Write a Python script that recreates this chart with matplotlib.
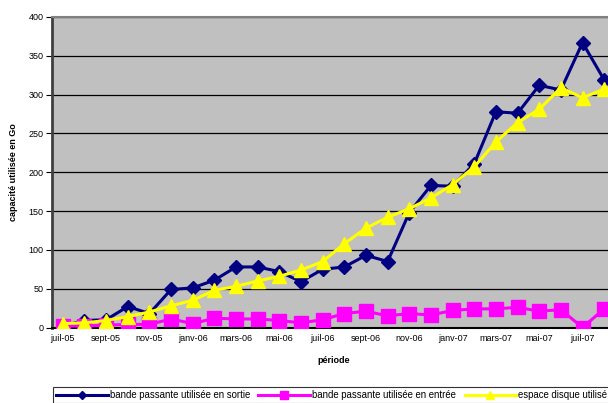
import matplotlib.pyplot as plt
import numpy as np

plt.rcParams['font.family'] = ['Liberation Sans', 'DejaVu Sans']

mois = ["juil-05", "août-05", "sept-05", "oct-05", "nov-05", "déc-05",
        "janv-06", "févr-06", "mars-06", "avr-06", "mai-06", "juin-06",
        "juil-06", "août-06", "sept-06", "oct-06", "nov-06", "déc-06",
        "janv-07", "févr-07", "mars-07", "avr-07", "mai-07", "juin-07",
        "juil-07", "août-07"]

sortie = [2, 9, 10, 27, 18, 49, 51, 61, 78, 78, 72, 59, 75, 78, 93, 85,
          148, 183, 182, 211, 278, 276, 312, 306, 367, 319]
entree = [2, 2, 3, 4, 4, 11, 5, 12, 11, 11, 9, 6, 10, 18, 21, 15,
          18, 16, 22, 24, 24, 26, 21, 23, 0, 24]
disque = [5, 6, 9, 14, 20, 28, 35, 48, 53, 60, 66, 74, 85, 108, 128, 142,
          153, 167, 184, 207, 239, 264, 281, 309, 296, 307]

x = np.arange(len(mois))

fig = plt.figure(figsize=(6.08, 4.03), dpi=100)
ax = fig.add_axes([52 / 608, 1 - 327.5 / 403, 563 / 608, 310.5 / 403])
ax.set_facecolor("#C0C0C0")

ax.plot(x, sortie, color="#000080", lw=2.2, marker="D", ms=7.5,
        label="bande passante utilisée en sortie", zorder=3)
ax.plot(x, entree, color="#FF00FF", lw=2.2, marker="s", ms=10,
        label="bande passante utilisée en entrée", zorder=3)
ax.plot(x, disque, color="#FFFF00", lw=2.2, marker="^", ms=10.5,
        label="espace disque utilisé", zorder=4)

ax.set_xlim(-0.5, len(mois) - 0.5)
ax.set_ylim(0, 400)
ax.set_yticks(range(0, 401, 50))
ax.set_xticks(x[::2])
ax.set_xticklabels(mois[::2])
ax.tick_params(axis="both", labelsize=6.5, colors="black")
ax.tick_params(axis="x", length=0, pad=5)
ax.tick_params(axis="y", length=4, width=0.8, pad=2)
ax.yaxis.grid(True, color="black", lw=0.9)
ax.set_axisbelow(True)

ax.spines["top"].set_color("#808080")
ax.spines["top"].set_linewidth(1.5)
ax.spines["left"].set_color("#404040")
ax.spines["left"].set_linewidth(2)
ax.spines["bottom"].set_color("black")
ax.spines["bottom"].set_linewidth(1.5)
ax.spines["right"].set_visible(False)

ax.set_ylabel("capacité utilisée en Go", fontsize=6.5, fontweight="bold", labelpad=8)
ax.set_xlabel("période", fontsize=6.5, fontweight="bold", labelpad=9)

leg = fig.legend(loc="upper left", bbox_to_anchor=(53 / 608, 1 - 387 / 403),
                 borderaxespad=0, ncol=3, fontsize=6.9, frameon=True,
                 fancybox=False, edgecolor="black", handlelength=5.4,
                 handletextpad=0.2, columnspacing=0.9, borderpad=0.3,
                 markerscale=0.6)
leg.get_frame().set_linewidth(0.8)

fig.savefig("out.png", dpi=100)
